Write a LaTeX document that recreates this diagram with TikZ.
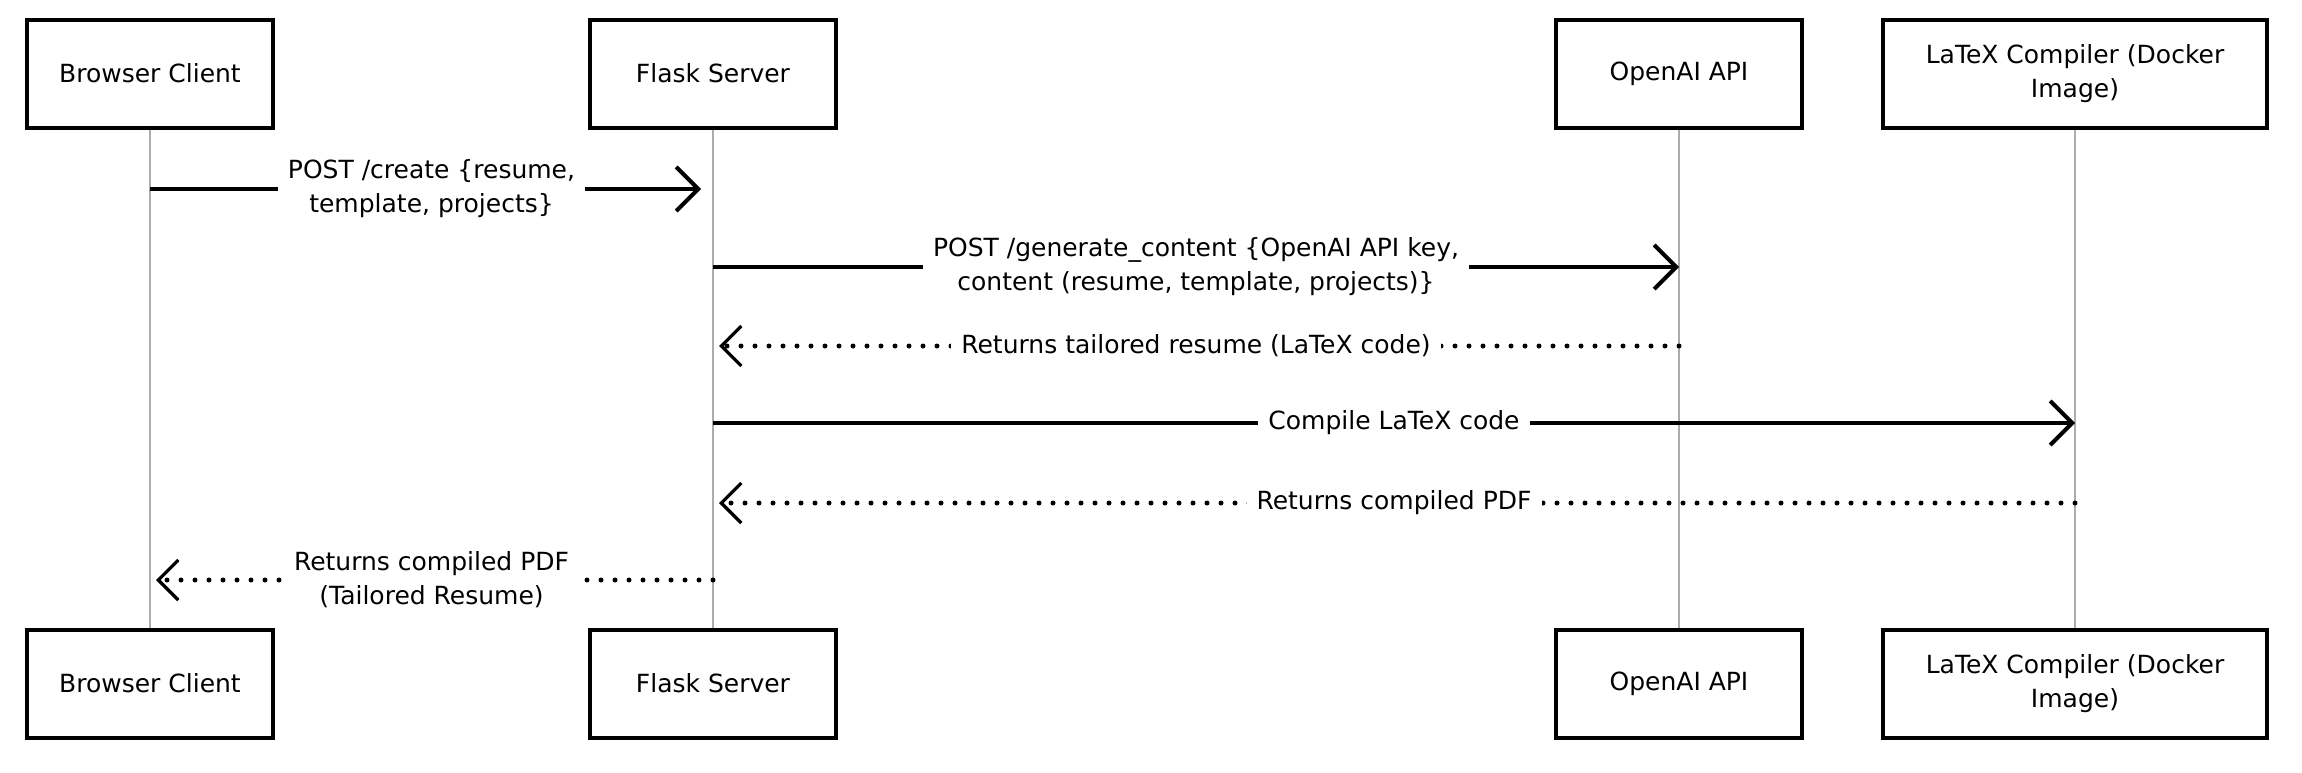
\documentclass[tikz,border=0pt]{standalone}
\usepackage{fontspec}
\setmainfont{DejaVu Sans}
\usetikzlibrary{arrows.meta}

\begin{document}
\begin{tikzpicture}[x=0.5pt,y=-0.5pt,
	actor/.style={draw, line width=2pt, minimum width=123pt, minimum height=54pt, align=center, font=\fontsize{12.5}{17}\selectfont},
	life/.style={gray!65, line width=0.8pt},
	call/.style={line width=2.1pt, -{Straight Barb[length=11pt,width=22pt,line width=2pt]}},
	reply/.style={line width=2.5pt, line cap=round, dash pattern=on 0pt off 7pt, -{Straight Barb[length=10pt,width=20pt,line width=1.6pt]}},
	lbl/.style={fill=white, inner xsep=5pt, align=center, font=\fontsize{12.5}{17}\selectfont}]
	\useasboundingbox (0,0) rectangle (2302,772);

	\node[actor] (bc) at (150,73.5) {Browser Client};
	\node[actor] (fs) at (713,73.5) {Flask Server};
	\node[actor] (oa) at (1679,73.5) {OpenAI API};
	\node[actor, minimum width=192pt] (lc) at (2075,73.5) {LaTeX Compiler (Docker\\Image)};

	\node[actor] (bc2) at (150,683.5) {Browser Client};
	\node[actor] (fs2) at (713,683.5) {Flask Server};
	\node[actor] (oa2) at (1679,683.5) {OpenAI API};
	\node[actor, minimum width=192pt] (lc2) at (2075,683.5) {LaTeX Compiler (Docker\\Image)};

	\draw[life] (bc.south) -- (bc2.north);
	\draw[life] (fs.south) -- (fs2.north);
	\draw[life] (oa.south) -- (oa2.north);
	\draw[life] (lc.south) -- (lc2.north);

	\draw[call, shorten >=6pt] (bc |- 0,189) -- (fs |- 0,189) node[lbl, midway] {POST /create \{resume,\\template, projects\}};
	\draw[call] (fs |- 0,267) -- (oa |- 0,267) node[lbl, midway] {POST /generate\_content \{OpenAI API key,\\content (resume, template, projects)\}};
	\draw[reply, shorten >=3pt] (oa |- 0,346) -- (fs |- 0,346) node[lbl, midway] {Returns tailored resume (LaTeX code)};
	\draw[call] (fs |- 0,423) -- (lc |- 0,423) node[lbl, midway] {Compile LaTeX code};
	\draw[reply, shorten >=3pt] (lc |- 0,503) -- (fs |- 0,503) node[lbl, midway] {Returns compiled PDF};
	\draw[reply, shorten >=3pt] (fs |- 0,580) -- (bc |- 0,580) node[lbl, midway] {Returns compiled PDF\\(Tailored Resume)};
\end{tikzpicture}
\end{document}
